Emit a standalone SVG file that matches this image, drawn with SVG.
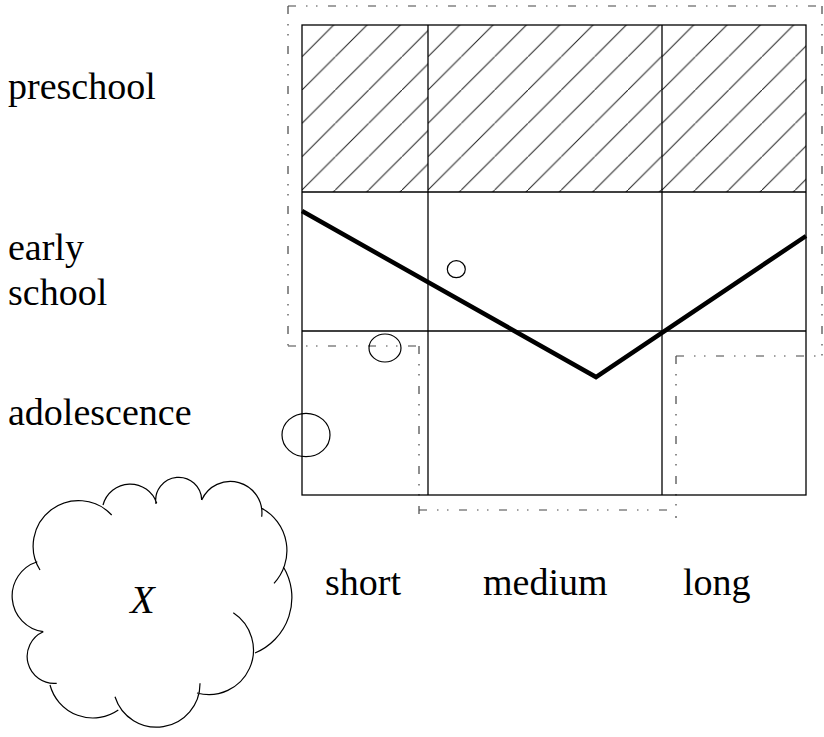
<svg xmlns="http://www.w3.org/2000/svg" width="824" height="737" viewBox="0 0 824 737">
<style>
.grid{fill:none;stroke:#000;stroke-width:1.3}
.dd{fill:none;stroke:#444;stroke-width:1.2;stroke-dasharray:8 10 1.5 8.5 1.5 10.5}
.hatch{stroke:#222;stroke-width:1}
.lbl{font-size:38px;fill:#000}
.circ{fill:none;stroke:#000;stroke-width:1.2}
.cloud{fill:none;stroke:#000;stroke-width:1.2}
</style>
<defs>
<pattern id="h1" patternUnits="userSpaceOnUse" x="302" y="190" width="33.33" height="33.33"><path class="hatch" d="M-5,38.33 L38.33,-5"/></pattern>
<pattern id="h2" patternUnits="userSpaceOnUse" x="428" y="190" width="33.33" height="33.33"><path class="hatch" d="M-5,38.33 L38.33,-5"/></pattern>
<pattern id="h3" patternUnits="userSpaceOnUse" x="662" y="190" width="33.33" height="33.33"><path class="hatch" d="M-5,38.33 L38.33,-5"/></pattern>
</defs>
<rect width="824" height="737" fill="#fff"/>
<g id="region-dashdot">
<line class="dd" x1="288" y1="6" x2="824" y2="6"/>
<line class="dd" x1="288" y1="6" x2="288" y2="346"/>
<line class="dd" x1="822" y1="6" x2="822" y2="356"/>
<line class="dd" x1="288" y1="346" x2="419" y2="346"/>
<line class="dd" x1="419" y1="346" x2="419" y2="517"/>
<line class="dd" x1="419" y1="510" x2="676" y2="510"/>
<line class="dd" x1="676" y1="356" x2="676" y2="518"/>
<line class="dd" x1="676" y1="356" x2="824" y2="356"/>
</g>
<g id="grid">
<rect x="302" y="25" width="126" height="167" fill="url(#h1)"/>
<rect x="428" y="25" width="234" height="167" fill="url(#h2)"/>
<rect x="662" y="25" width="144" height="167" fill="url(#h3)"/>
<rect class="grid" x="302" y="25" width="504" height="470"/>
<line class="grid" x1="428" y1="25" x2="428" y2="495"/>
<line class="grid" x1="662" y1="25" x2="662" y2="495"/>
<line class="grid" x1="302" y1="192" x2="806" y2="192"/>
<line class="grid" x1="302" y1="331" x2="806" y2="331"/>
</g>
<g id="connectors">
<polyline points="302,211 596,377 806,236" fill="none" stroke="#000" stroke-width="4.5" stroke-linejoin="miter"/>
</g>
<g id="circles">
<ellipse class="circ" cx="456.3" cy="269.2" rx="9" ry="8.5"/>
<ellipse class="circ" cx="385" cy="348" rx="16" ry="14"/>
<ellipse class="circ" cx="306" cy="435" rx="24" ry="21.7"/>
</g>
<g font-family="'Liberation Serif', 'Times New Roman', 'DejaVu Serif', serif">
<g id="row-labels">
<text class="lbl" x="8" y="99">preschool</text>
<text class="lbl" x="8" y="260">early</text>
<text class="lbl" x="8" y="305">school</text>
<text class="lbl" x="8" y="425">adolescence</text>
</g>
<g id="col-labels">
<text class="lbl" x="325" y="595">short</text>
<text class="lbl" x="483" y="595">medium</text>
<text class="lbl" x="683" y="595">long</text>
</g>
<g id="cloud-x">
<path class="cloud" d="M40,570 A45.4,45.4 0 0 1 111.7,515 M103,505 A28,28 0 0 1 156.7,503.3 M156,504 A23,23 0 1 1 201.7,500 M201.7,500 A31.5,31.5 0 0 1 261.7,516.7 M261.7,508.3 A48,48 0 0 1 274,583.3 M283.3,566.7 A60,60 0 0 1 255,653 M233.3,612.7 A44.6,44.6 0 0 1 197,693 M200,683.3 A43.5,43.5 0 0 1 115,696.7 M118.3,710 A44.4,44.4 0 0 1 50,685 M56.7,683.3 A27,27 0 0 1 43.3,631.7 M43.3,631.7 A36,36 0 0 1 37.3,561.7"/>
<text x="142.5" y="613" font-style="italic" font-size="40" text-anchor="middle" fill="#000">X</text>
</g>
</g>
</svg>
